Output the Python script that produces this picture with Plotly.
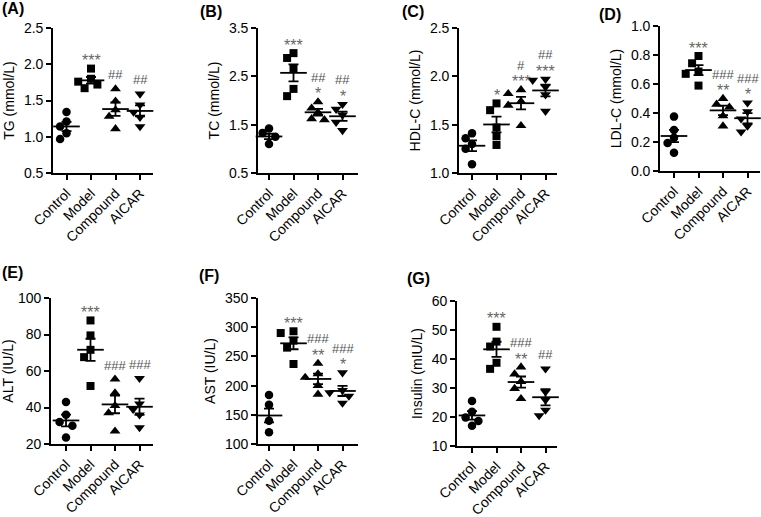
import numpy as np
import plotly.graph_objects as go

groups = ["Control", "Model", "Compound", "AICAR"]

# (A) TG (mmol/L)
tg_control = [1.34, 1.21, 1.14, 1.05, 0.97]
tg_model = [1.94, 1.80, 1.76, 1.72, 1.67]
tg_compound = [1.66, 1.49, 1.37, 1.28, 1.11]
tg_aicar = [1.59, 1.44, 1.34, 1.27, 1.14]
tg_marks = [[], ["***"], ["##"], ["##"]]

# (B) TC (mmol/L)
tc_control = [1.42, 1.33, 1.25, 1.18, 1.10]
tc_model = [2.98, 2.88, 2.67, 2.24, 2.09]
tc_compound = [1.97, 1.84, 1.75, 1.62, 1.60]
tc_aicar = [1.92, 1.82, 1.70, 1.55, 1.38]
tc_marks = [[], ["***"], ["*", "##"], ["*", "##"]]

# (C) HDL-C (mmol/L)
hdl_control = [1.41, 1.36, 1.30, 1.25, 1.09]
hdl_model = [1.72, 1.65, 1.47, 1.38, 1.29]
hdl_compound = [1.86, 1.82, 1.74, 1.70, 1.49]
hdl_aicar = [1.97, 1.96, 1.89, 1.81, 1.64]
hdl_marks = [[], ["*"], ["***", "#"], ["***", "##"]]

# (D) LDL-C (mmol/L)
ldl_control = [0.375, 0.283, 0.23, 0.193, 0.126]
ldl_model = [0.793, 0.743, 0.686, 0.67, 0.589]
ldl_compound = [0.50, 0.46, 0.44, 0.38, 0.31]
ldl_aicar = [0.47, 0.41, 0.36, 0.31, 0.27]
ldl_marks = [[], ["***"], ["**", "###"], ["*", "###"]]

# (E) ALT (IU/L)
alt_control = [43, 36, 32, 30, 23.5]
alt_model = [87.7, 79.5, 71.6, 67.6, 51.8]
alt_compound = [55.5, 48, 41, 37, 27]
alt_aicar = [56, 42, 39, 36, 29]
alt_marks = [[], ["***"], ["###"], ["###"]]

# (F) AST (IU/L)
ast_control = [184, 167, 140, 133, 120]
ast_model = [293, 290, 277, 265, 237]
ast_compound = [238, 220, 214, 200, 185]
ast_aicar = [222, 192, 188, 182, 170]
ast_marks = [[], ["***"], ["**", "###"], ["*", "###"]]

# (G) Insulin (mIU/L)
ins_control = [25.5, 21.8, 19.8, 18.6, 17.0]
ins_model = [51.1, 46.0, 44.3, 38.7, 36.6]
ins_compound = [37.2, 34.8, 32.2, 29.8, 26.3]
ins_aicar = [36.6, 28.7, 25.9, 22.4, 20.5]
ins_marks = [[], ["***"], ["**", "###"], ["##"]]

W, H = 761, 517
SPACING = 24.5  # px per category

panels = [
    dict(label="(A)", lab_xy=(0, 8), title="TG (mmol/L)",
         data=[tg_control, tg_model, tg_compound, tg_aicar], marks=tg_marks,
         ax=53, cat0=66.5, ex=153, top=28, bot=173, yr=(0.5, 2.5), dt=0.5, fmt=".1f"),
    dict(label="(B)", lab_xy=(198, 11), title="TC (mmol/L)",
         data=[tc_control, tc_model, tc_compound, tc_aicar], marks=tc_marks,
         ax=258, cat0=269, ex=358, top=28, bot=173, yr=(0.5, 3.5), dt=1.0, fmt=".1f"),
    dict(label="(C)", lab_xy=(400, 12), title="HDL-C (mmol/L)",
         data=[hdl_control, hdl_model, hdl_compound, hdl_aicar], marks=hdl_marks,
         ax=459, cat0=472, ex=557, top=28, bot=173, yr=(1.0, 2.5), dt=0.5, fmt=".1f"),
    dict(label="(D)", lab_xy=(597, 14), title="LDL-C (mmol/L)",
         data=[ldl_control, ldl_model, ldl_compound, ldl_aicar], marks=ldl_marks,
         ax=660, cat0=674, ex=760, top=26, bot=171, yr=(0.0, 1.0), dt=0.2, fmt=".1f"),
    dict(label="(E)", lab_xy=(0, 272), title="ALT (IU/L)",
         data=[alt_control, alt_model, alt_compound, alt_aicar], marks=alt_marks,
         ax=51, cat0=66, ex=153, top=298, bot=444, yr=(20, 100), dt=20, fmt="d"),
    dict(label="(F)", lab_xy=(197, 275), title="AST (IU/L)",
         data=[ast_control, ast_model, ast_compound, ast_aicar], marks=ast_marks,
         ax=258, cat0=269, ex=358, top=298, bot=444, yr=(100, 350), dt=50, fmt="d"),
    dict(label="(G)", lab_xy=(405, 278), title="Insulin (mIU/L)",
         data=[ins_control, ins_model, ins_compound, ins_aicar], marks=ins_marks,
         ax=457, cat0=472, ex=557, top=301, bot=446, yr=(10, 60), dt=10, fmt="d"),
]

symbols = ["circle", "square", "triangle-up", "triangle-down"]
msizes = [8.5, 8, 9.5, 9.5]
FONT = "Arial, Liberation Sans, sans-serif"


def swarm(vals, px_per_y, size=8.0):
    vals = np.asarray(vals, dtype=float)
    order = np.argsort(-vals)
    placed = []
    offs = np.zeros(len(vals))
    cands = [0, -1, 1, -2, 2, -3, 3]
    for i in order:
        ypx = vals[i] * px_per_y
        xpx = 0.0
        for c in cands:
            xpx = c * size * 0.8
            if all((xpx - px) ** 2 + (ypx - py) ** 2 >= (size * 0.95) ** 2 for px, py in placed):
                break
        placed.append((xpx, ypx))
        offs[i] = xpx / SPACING
    return offs


fig = go.Figure()
layout = dict(width=W, height=H, autosize=False, margin=dict(l=0, r=0, t=0, b=0, pad=0),
              paper_bgcolor="white", plot_bgcolor="white", showlegend=False,
              font=dict(family=FONT, color="black"), annotations=[])

for pi, p in enumerate(panels):
    n = "" if pi == 0 else str(pi + 1)
    xa, ya = "x" + n, "y" + n
    lo = -(p["cat0"] - p["ax"]) / SPACING
    hi = lo + (p["ex"] - p["ax"]) / SPACING
    ppy = (p["bot"] - p["top"]) / (p["yr"][1] - p["yr"][0])
    for gi, vals in enumerate(p["data"]):
        offs = swarm(vals, ppy, size=8.0)
        fig.add_trace(go.Scatter(
            x=gi + offs, y=vals, mode="markers", xaxis=xa, yaxis=ya,
            marker=dict(symbol=symbols[gi], size=msizes[gi], color="black",
                        line=dict(width=0)),
            cliponaxis=False, hoverinfo="y"))
        m = float(np.mean(vals))
        sem = float(np.std(vals, ddof=1) / np.sqrt(len(vals)))
        fig.add_trace(go.Scatter(
            x=[gi], y=[m], mode="markers", xaxis=xa, yaxis=ya,
            marker=dict(symbol="line-ew", size=19, color="black",
                        line=dict(width=1.8, color="black")),
            error_y=dict(type="data", array=[sem], color="black", thickness=1.8, width=5),
            cliponaxis=False, hoverinfo="y"))
        top_val = max(max(vals), m + sem)
        shift = 0.0
        for k, txt in enumerate(p["marks"][gi]):
            is_star = "*" in txt
            if k == 0:
                shift = 8 if is_star else 14
            else:
                shift += 16.5
            layout["annotations"].append(dict(
                x=gi, y=top_val, xref=xa, yref=ya, text=txt, showarrow=False,
                xanchor="center", yanchor="middle", borderpad=0, yshift=shift,
                font=dict(family=FONT, size=16 if is_star else 13,
                          color="#666666" if is_star else "#555555")))
    layout["xaxis" + n] = dict(
        domain=[p["ax"] / W, min(p["ex"] / W, 1.0)], range=[lo, hi], anchor=ya,
        tickvals=[0, 1, 2, 3], ticktext=groups, tickangle=-45,
        tickfont=dict(family=FONT, size=14, color="black"), automargin=False,
        showline=True, linecolor="black", linewidth=1.6, ticks="outside",
        ticklen=5, tickwidth=1.6, tickcolor="black", showgrid=False, zeroline=False,
        fixedrange=True)
    layout["yaxis" + n] = dict(
        domain=[1 - p["bot"] / H, 1 - p["top"] / H], range=list(p["yr"]), anchor=xa,
        tick0=p["yr"][0], dtick=p["dt"], tickformat=p["fmt"], automargin=False,
        tickfont=dict(family=FONT, size=14, color="black"),
        title=dict(text=p["title"], font=dict(family=FONT, size=14, color="black"), standoff=6),
        showline=True, linecolor="black", linewidth=1.6, ticks="outside",
        ticklen=5, tickwidth=1.6, tickcolor="black", showgrid=False, zeroline=False,
        fixedrange=True)
    lx, ly = p["lab_xy"]
    layout["annotations"].append(dict(
        x=lx / W, y=1 - ly / H, xref="paper", yref="paper", text="<b>" + p["label"] + "</b>",
        showarrow=False, xanchor="left", yanchor="middle",
        font=dict(family=FONT, size=16, color="black")))

fig.update_layout(**layout)
fig.write_html("out.html", config={"displayModeBar": False},
               post_script="document.body.style.margin='0';document.body.style.overflow='hidden';")
